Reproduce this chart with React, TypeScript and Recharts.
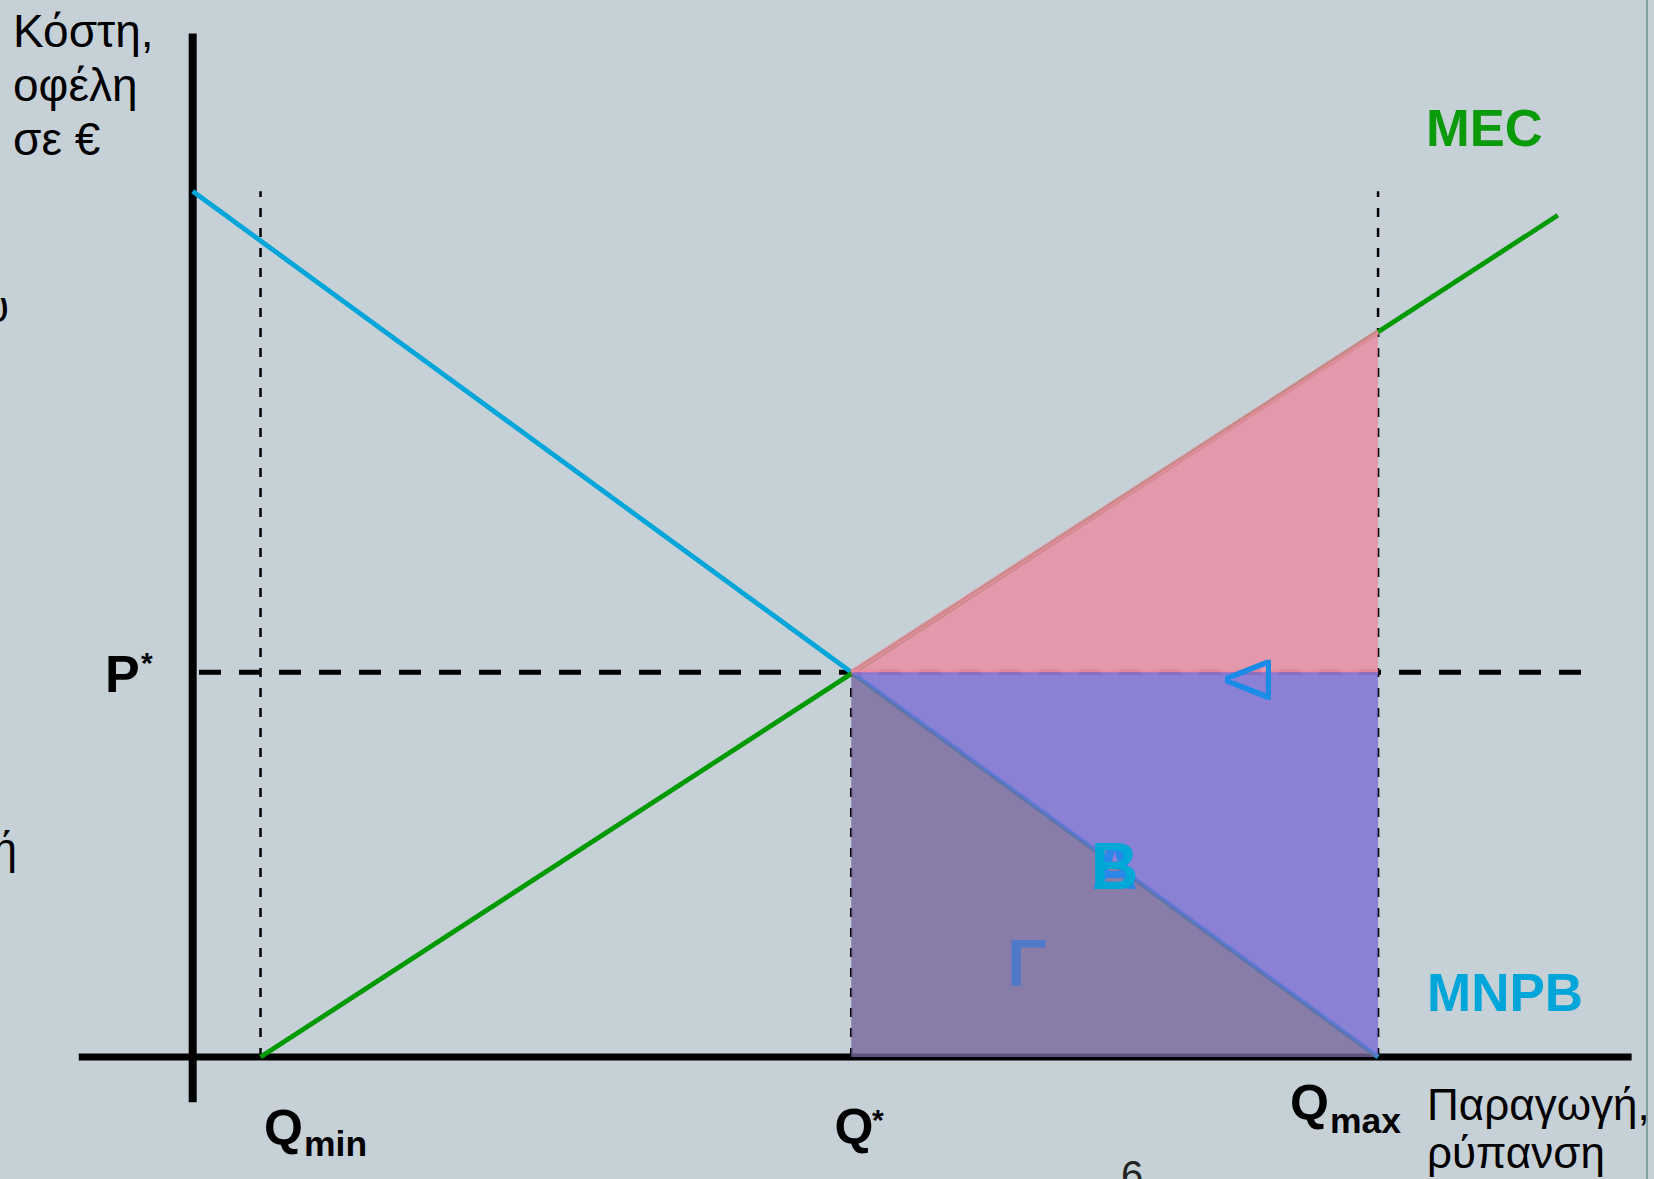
import { ComposedChart, XAxis, YAxis, Line, Area, ReferenceLine } from 'recharts';

// quantities on the x axis, money on the y axis (chart units)
const quantities = { qMin: 1.03, qStar: 10, qMax: 18 };
const pStar = 40;

const mnpbPoints = [
  { q: 0, v: 90 },
  { q: 18, v: 0 },
];

const mecPoints = [
  { q: 1.03, v: 0 },
  { q: 20.73, v: 87.5 },
];

const mecAtQmax = 75.4;

// shaded areas: [low, high] bands
const deltaBand = [
  { q: 10, band: [40, 40] },
  { q: 18, band: [40, mecAtQmax] },
];
const betaBand = [
  { q: 10, band: [40, 40] },
  { q: 18, band: [0, 40] },
];
const gammaBand = [
  { q: 10, band: [0, 40] },
  { q: 18, band: [0, 0] },
];

const yAxisRange = [-4.7, 106.4];
const xAxisRange = [-1.73, 21.85];
const guideTop = 90;
const pStarEnd = 21.1;

const W = 1654;
const H = 1179;
const BG = '#c6d1d7';
const FONT = '"Liberation Sans", Arial, Helvetica, sans-serif';

export default function App() {
  const { qMin, qStar, qMax } = quantities;

  const guide = { stroke: '#000', strokeWidth: 2.5, strokeDasharray: '9 11', zIndex: 300 };
  const curve = { type: 'linear' as const, strokeWidth: 4.8, dot: false, activeDot: false, isAnimationActive: false, zIndex: 400 };
  const shade = { dataKey: 'band', type: 'linear' as const, fillOpacity: 0.8, dot: false, activeDot: false, isAnimationActive: false, zIndex: 800 };

  return (
    <div style={{ position: 'absolute', left: 0, top: 0, width: W, height: H, background: BG, overflow: 'hidden' }}>
      <ComposedChart width={W} height={H} margin={{ top: 0, right: 0, bottom: 0, left: 0 }}>
        <XAxis type="number" dataKey="q" domain={[-2.926, 22.19]} allowDataOverflow hide />
        <YAxis type="number" domain={[-12.68, 109.88]} allowDataOverflow hide />

        {/* guides */}
        <ReferenceLine segment={[{ x: qMin, y: 0 }, { x: qMin, y: guideTop }]} {...guide} />
        <ReferenceLine segment={[{ x: qMax, y: 0 }, { x: qMax, y: guideTop }]} {...guide} />
        <ReferenceLine segment={[{ x: qStar, y: 0 }, { x: qStar, y: pStar }]} {...guide} />
        <ReferenceLine
          segment={[{ x: 0, y: pStar }, { x: pStarEnd, y: pStar }]}
          stroke="#000"
          strokeWidth={5}
          strokeDasharray="22 18"
          strokeDashoffset={33.7}
          zIndex={300}
        />

        {/* axes drawn as thick lines */}
        <ReferenceLine
          segment={[{ x: xAxisRange[0], y: 0 }, { x: xAxisRange[1], y: 0 }]}
          stroke="#000"
          strokeWidth={7}
          zIndex={310}
        />
        <ReferenceLine
          segment={[{ x: 0, y: yAxisRange[0] }, { x: 0, y: yAxisRange[1] }]}
          stroke="#000"
          strokeWidth={8}
          zIndex={310}
        />

        <Line data={mnpbPoints} dataKey="v" stroke="#00a6d9" {...curve} />
        <Line data={mecPoints} dataKey="v" stroke="#009a00" {...curve} />

        <Area
          data={deltaBand}
          fill="#eb8aa0"
          stroke="#eb8aa0"
          strokeOpacity={0.8}
          strokeWidth={5}
          {...shade}
        />
        <Area data={betaBand} fill="#7b6cd3" stroke="none" {...shade} />
        <Area data={gammaBand} fill="#78679d" stroke="none" {...shade} />
      </ComposedChart>

      <svg
        width={W}
        height={H}
        style={{ position: 'absolute', left: 0, top: 0, pointerEvents: 'none' }}
        fontFamily={FONT}
      >
        {/* axis titles */}
        <text fontSize={46} fill="#000">
          <tspan x={13} y={47}>Κόστη,</tspan>
          <tspan x={13} y={101}>οφέλη</tspan>
          <tspan x={13} y={155}>σε €</tspan>
        </text>
        <text fontSize={44} fill="#000">
          <tspan x={1427} y={1120}>Παραγωγή,</tspan>
          <tspan x={1427} y={1168}>ρύπανση</tspan>
        </text>

        {/* cut-off text at the left edge of the slide */}
        <text x={9} y={322} fontSize={44} textAnchor="end" fill="#000">υ</text>
        <text x={17} y={864} fontSize={44} textAnchor="end" fill="#000">ή</text>
        <text x={1121} y={1189} fontSize={40} fill="#222">6</text>

        {/* point labels */}
        <text x={105} y={691.7} fontSize={52} fontWeight="bold" fill="#000">P</text>
        <text x={141} y={673} fontSize={30} fontWeight="bold" fill="#000">*</text>

        <text x={264} y={1145} fontSize={50} fontWeight="bold" fill="#000">Q</text>
        <text x={304} y={1156} fontSize={35.5} fontWeight="bold" fill="#000">min</text>

        <text x={834.5} y={1144} fontSize={50} fontWeight="bold" fill="#000">Q</text>
        <text x={872} y={1130} fontSize={30} fontWeight="bold" fill="#000">*</text>

        <text x={1290} y={1120} fontSize={50} fontWeight="bold" fill="#000">Q</text>
        <text x={1330} y={1133} fontSize={35.5} fontWeight="bold" fill="#000">max</text>

        {/* curve names */}
        <text x={1426} y={146} fontSize={52.5} fontWeight="bold" fill="#0a9a0a">MEC</text>
        <text x={1427} y={1010.7} fontSize={53} fontWeight="bold" fill="#00a6d9">MNPB</text>

        {/* area letters */}
        <g transform="translate(1247.5 679.7) rotate(-90)">
          <text x={0} y={23.6} fontSize={66} textAnchor="middle" fill="#1a8ce8">Δ</text>
        </g>
        <text x={1114.7} y={889} fontSize={64} fontWeight="bold" textAnchor="middle" fill="#2a86e8">Α</text>
        <text x={1114.7} y={889} fontSize={66} fontWeight="bold" textAnchor="middle" fill="#00a8d8">Β</text>
        <text x={1007} y={985.7} fontSize={66} fontWeight="bold" fill="#5079c9">Γ</text>
      </svg>

      <div style={{ position: 'absolute', left: 1646, top: 0, width: 2, height: H, background: '#86a0a0' }} />
    </div>
  );
}
